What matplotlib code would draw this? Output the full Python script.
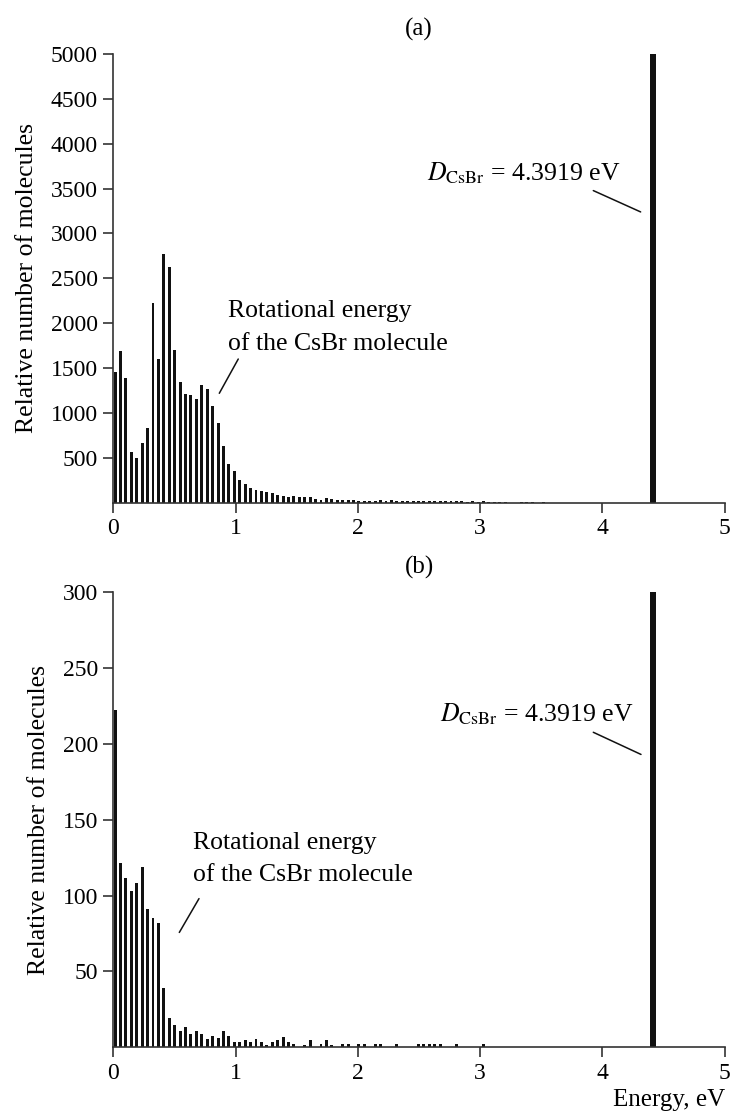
import matplotlib
matplotlib.use('Agg')
import numpy as np
import matplotlib.pyplot as plt

plt.rcParams['font.family'] = ['Liberation Serif', 'DejaVu Serif']
plt.rcParams['mathtext.fontset'] = 'stix'
plt.rcParams['font.size'] = 17

# energy bins (eV): first bin centre and bin step
e0 = 0.015
de = 0.0443
d_csbr = 4.3919

# (a) relative number of molecules per bin
counts_a = [1450, 1695, 1390, 565, 494, 662, 833, 2223, 1599, 2766,
            2625, 1700, 1344, 1210, 1200, 1154, 1310, 1266, 1076, 883,
            630, 435, 352, 253, 212, 157, 136, 130, 115, 104,
            84, 70, 61, 72, 62, 57, 59, 44, 33, 47,
            36, 31, 27, 25, 25, 18, 20, 20, 17, 25,
            18, 25, 21, 17, 13, 13, 13, 20, 13, 15,
            12, 14, 12, 15, 12, 10, 12, 10, 12, 10,
            8, 10, 8, 0, 0, 8, 8, 6, 0, 6]
peak_a = 5000

# (b) relative number of molecules per bin
counts_b = [222, 121.7, 111.8, 103, 108, 119, 91, 85, 82, 39.3,
            19.5, 14.5, 10.5, 13.4, 8.5, 10.5, 8.5, 5.5, 7.4, 6.4,
            10.5, 7.4, 3.5, 3.5, 4.6, 3.5, 5.5, 3.5, 1.5, 3.5,
            4.6, 6.6, 3.5, 2.2, 0, 1.5, 4.6, 0, 2.5, 5,
            1.5, 0, 2, 2, 0, 2, 2, 0, 2, 2,
            0, 0, 2, 0, 0, 0, 2, 2, 2, 2,
            2, 0, 0, 2, 0, 0, 0, 0, 2]
peak_b = 300

x_ticks = [0, 1, 2, 3, 4, 5]
y_ticks_a = [500, 1000, 1500, 2000, 2500, 3000, 3500, 4000, 4500, 5000]
y_ticks_b = [50, 100, 150, 200, 250, 300]

fig = plt.figure(figsize=(7.35, 11.15), dpi=100)
ax_a = fig.add_axes([0.1541, 0.5493, 0.832, 0.4022])
ax_b = fig.add_axes([0.1541, 0.0607, 0.832, 0.4083])


def draw_panel(ax, counts, peak, yticks, title):
    x = e0 + de * np.arange(len(counts))
    ax.bar(x, counts, width=0.024, color='#111111', linewidth=0)
    ax.bar([d_csbr], [peak], width=0.046, align='edge', color='#111111', linewidth=0)
    ax.set_xlim(0, 5)
    ax.set_ylim(0, yticks[-1])
    ax.set_xticks(x_ticks)
    ax.set_yticks(yticks)
    for s in ['top', 'right']:
        ax.spines[s].set_visible(False)
    for s in ['left', 'bottom']:
        ax.spines[s].set_linewidth(1.2)
        ax.spines[s].set_color('#333333')
    ax.tick_params(direction='out', length=7, width=1.2, color='#333333',
                   labelsize=17, pad=4)
    ax.set_ylabel('Relative number of molecules', fontsize=18.5, labelpad=9)
    ax.set_title(title, fontsize=18, pad=13)


draw_panel(ax_a, counts_a, peak_a, y_ticks_a, '(a)')
draw_panel(ax_b, counts_b, peak_b, y_ticks_b, '(b)')

d_label = r'$D_{\mathrm{CsBr}}$ = 4.3919 eV'
line_kw = dict(arrowstyle='-', color='#111111', lw=1.1, shrinkA=0, shrinkB=0)
rot_label = 'Rotational energy\nof the CsBr molecule'

# panel (a) annotations
ax_a.text(0.94, 1952, rot_label, ha='left', va='center', fontsize=18.5,
          linespacing=1.6)
ax_a.annotate('', xy=(0.867, 1218), xytext=(1.022, 1600), arrowprops=line_kw)
ax_a.text(4.143, 3597, d_label, ha='right', va='baseline', fontsize=18.5)
ax_a.annotate('', xy=(4.312, 3240), xytext=(3.925, 3478), arrowprops=line_kw)

# panel (b) annotations
ax_b.text(0.652, 124, rot_label, ha='left', va='center', fontsize=18.5,
          linespacing=1.6)
ax_b.annotate('', xy=(0.54, 75.7), xytext=(0.701, 98), arrowprops=line_kw)
ax_b.text(4.25, 215, d_label, ha='right', va='baseline', fontsize=18.5)
ax_b.annotate('', xy=(4.315, 193), xytext=(3.925, 207.6), arrowprops=line_kw)

ax_b.set_xlabel('Energy, eV', loc='right', fontsize=18, labelpad=4)

fig.savefig('out.png', dpi=100)
